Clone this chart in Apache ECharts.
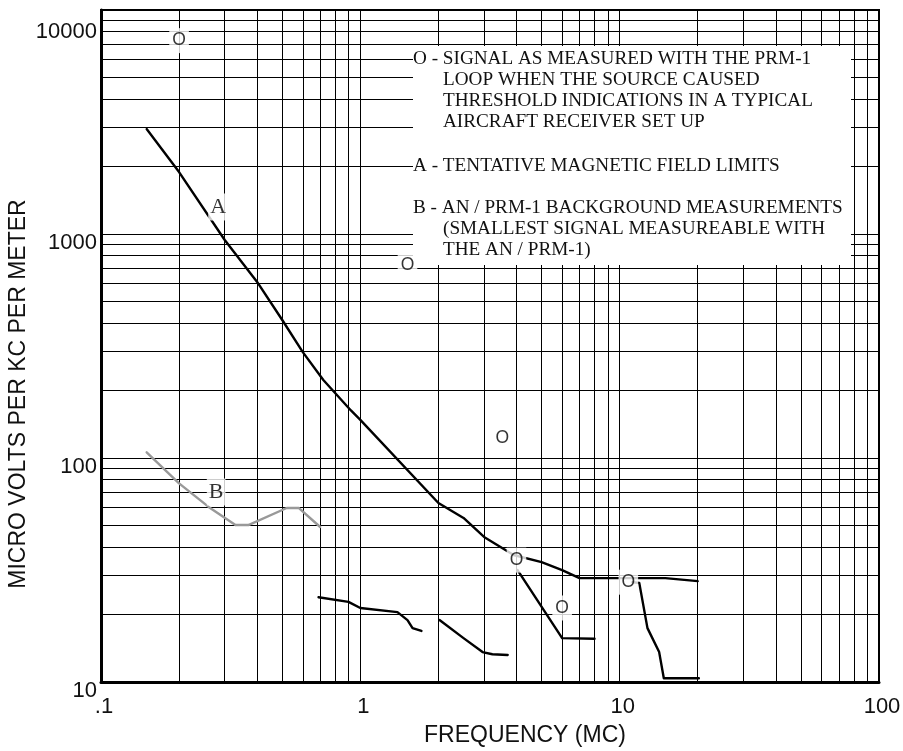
<!DOCTYPE html>
<html>
<head>
<meta charset="utf-8">
<script src="https://cdn.jsdelivr.net/npm/echarts@6/dist/echarts.min.js"></script>
<style>
  html, body { margin: 0; padding: 0; background: #fff; }
  #chart { width: 903px; height: 751px; }
</style>
</head>
<body>
<div id="chart"></div>
<script>
// Decade ticks of both log axes and their printed labels
const xTicks = [0.1, 1, 10, 100];
const xTickLabels = ['.1', '1', '10', '100'];
const yTicks = [10, 100, 1000, 10000];
const yTickLabels = ['10', '100', '1000', '10000'];

// Intermediate rulings of the log-log graph paper
const xMinorGrid = [0.2, 0.3, 0.4, 0.5, 0.6, 0.7, 0.8, 0.9,
                    2, 3, 4, 5, 6, 7, 8, 9,
                    20, 30, 40, 50, 60, 70, 80, 90];
const yMinorGrid = [20, 30, 40, 50, 60, 70, 80, 90,
                    200, 300, 400, 500, 600, 700, 800, 900,
                    2000, 3000, 4000, 5000, 6000, 7000, 8000, 9000];

// A - tentative magnetic field limits  [MC, µV/kc/m]
const curveA = [[0.15, 2940], [0.2, 1890], [0.3, 940], [0.4, 611], [0.5, 413],
                [0.6, 297], [0.72, 223], [0.92, 163], [1.0, 148], [2.0, 63],
                [2.5, 54], [3.0, 44.4], [3.9, 36.9], [5.0, 34.3], [6.0, 31.6],
                [7.0, 29.1], [15, 29.1], [20, 28.2]];

// B - AN/PRM-1 background measurements
const curveB = [[0.15, 106], [0.2, 77], [0.26, 60.5], [0.33, 50.2], [0.37, 50.2],
                [0.52, 59.8], [0.58, 59.8], [0.7, 49.2]];

// Measured source traces
const traceLow1 = [[0.69, 23.9], [0.9, 22.8], [1.0, 21.4], [1.39, 20.5],
                   [1.52, 18.9], [1.59, 17.4], [1.72, 16.9]];
const traceLow2 = [[2.02, 18.9], [2.5, 15.7], [2.96, 13.6], [3.23, 13.3], [3.7, 13.2]];
const traceDrop1 = [[4.04, 31.6], [6.0, 15.7], [8.0, 15.6]];
const traceDrop2 = [[11.2, 27.9], [11.9, 27.7], [12.8, 17.4], [14.2, 13.6],
                    [14.8, 10.4], [20.2, 10.4]];

// O - threshold signals measured with the PRM-1 loop
const thresholdPoints = [[0.2, 7300], [1.52, 727], [3.53, 123], [4.0, 35],
                         [6.0, 21.4], [10.8, 27.9]];

// Curve tags
const curveTags = [['A', 0.283, 1320], ['B', 0.278, 70.5]];

// Key text
const keyLines = [
  ['O - SIGNAL AS MEASURED WITH THE PRM-1', 0],
  ['LOOP WHEN THE SOURCE CAUSED', 1],
  ['THRESHOLD INDICATIONS IN A TYPICAL', 1],
  ['AIRCRAFT RECEIVER SET UP', 1],
  ['A - TENTATIVE MAGNETIC FIELD LIMITS', 0],
  ['B - AN / PRM-1 BACKGROUND MEASUREMENTS', 0],
  ['(SMALLEST SIGNAL MEASUREABLE WITH', 1],
  ['THE AN / PRM-1)', 1]
];
const keyLineY = [59, 80, 101, 122, 166, 208, 229, 250];

const SANS = 'Liberation Sans';
const SERIF = 'Liberation Serif';

function tickLabel(v, ticks, labels) {
  for (let i = 0; i < ticks.length; i++) {
    if (Math.abs(Math.log10(v) - Math.log10(ticks[i])) < 1e-6) return labels[i];
  }
  return '';
}

function traceSeries(data, color) {
  return {
    type: 'line',
    data: data,
    showSymbol: false,
    symbol: 'none',
    silent: true,
    z: 3,
    lineStyle: { color: color, width: 2.4, cap: 'round', join: 'round' },
    animation: false
  };
}

function textMarks(data, family, size, pad) {
  return {
    type: 'scatter', data: data, z: 10, silent: true,
    symbol: 'circle', symbolSize: 1, itemStyle: { color: 'rgba(0,0,0,0)' },
    label: {
      show: true, position: 'inside',
      formatter: p => p.name || 'O',
      fontFamily: family, fontSize: size, color: '#000',
      textBorderWidth: 0, textBorderColor: 'transparent',
      backgroundColor: '#fff', padding: pad
    }
  };
}

const chart = echarts.init(document.getElementById('chart'), null, { renderer: 'canvas' });

chart.setOption({
  backgroundColor: '#fff',
  animation: false,
  grid: {
    left: 101, right: 24, top: 10, bottom: 69,
    containLabel: false, outerBoundsMode: 'none',
    show: true, borderColor: '#000', borderWidth: 2, backgroundColor: '#fff'
  },
  xAxis: {
    type: 'log', logBase: 10, min: 0.1, max: 100,
    name: 'FREQUENCY (MC)', nameLocation: 'middle', nameGap: 42, nameMoveOverlap: false,
    nameTextStyle: { fontFamily: SANS, fontSize: 23, color: '#111', padding: [0, 0, 0, 70] },
    axisLine: { show: true, lineStyle: { color: '#000', width: 3 } },
    axisTick: { show: false },
    splitLine: { show: true, lineStyle: { color: '#000', width: 1 } },
    axisLabel: {
      margin: 14, fontFamily: SANS, fontSize: 22, color: '#111', padding: [0, 0, 0, 6],
      formatter: v => tickLabel(v, xTicks, xTickLabels)
    }
  },
  yAxis: {
    type: 'log', logBase: 10, min: 10, max: 10000,
    name: 'MICRO VOLTS PER KC PER METER', nameLocation: 'middle', nameGap: 71,
    nameMoveOverlap: false, nameRotate: 90,
    nameTextStyle: { fontFamily: SANS, fontSize: 23, color: '#111', padding: [0, 96, 0, 0] },
    axisLine: { show: true, lineStyle: { color: '#000', width: 3 } },
    axisTick: { show: false },
    splitLine: { show: true, lineStyle: { color: '#000', width: 1 } },
    axisLabel: {
      margin: 4, fontFamily: SANS, fontSize: 22, color: '#111',
      formatter: v => {
        const t = tickLabel(v, yTicks, yTickLabels);
        return v > 5000 ? '{top|' + t + '}' : '{n|' + t + '}';
      },
      rich: {
        n: { fontFamily: SANS, fontSize: 22, color: '#111', padding: [18, 0, 0, 0] },
        top: { fontFamily: SANS, fontSize: 22, color: '#111', padding: [44, 0, 0, 0] }
      }
    }
  },
  graphic: [
    {
      type: 'rect', z: 6, silent: true,
      shape: { x: 413, y: 46, width: 438, height: 219 },
      style: { fill: '#fff' }
    }
  ].concat(keyLines.map((ln, i) => ({
    type: 'text', z: 7, silent: true,
    x: ln[1] ? 443 : 413, y: keyLineY[i],
    style: {
      text: ln[0], fill: '#111', fontFamily: SERIF, fontSize: 19.2,
      align: 'left', verticalAlign: 'middle'
    }
  }))),
  series: [
    {
      // graph-paper rulings between the decades
      type: 'line', data: [], z: 1, silent: true,
      markLine: {
        silent: true, symbol: ['none', 'none'], animation: false, z: 1,
        label: { show: false },
        lineStyle: { color: '#000', width: 1, type: 'solid' },
        emphasis: { disabled: true },
        data: xMinorGrid.map(v => ({ xAxis: v })).concat(yMinorGrid.map(v => ({ yAxis: v })))
      }
    },
    traceSeries(curveA, '#000'),
    traceSeries(curveB, '#999'),
    traceSeries(traceLow1, '#000'),
    traceSeries(traceLow2, '#000'),
    traceSeries(traceDrop1, '#000'),
    traceSeries(traceDrop2, '#000'),
    textMarks(thresholdPoints, SANS, 17.5, [4, 3, 3, 3]),
    textMarks(curveTags.map(t => ({ name: t[0], value: [t[1], t[2]] })), SERIF, 22, [3, 2, 2, 2])
  ]
});
</script>
</body>
</html>
